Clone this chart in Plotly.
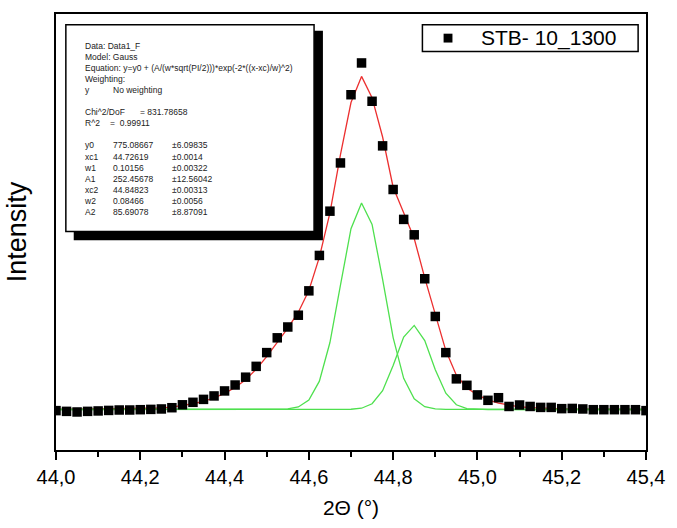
import plotly.graph_objects as go

# 2-theta scan of the (110) reflection, 0.025 deg steps
two_theta = [
    44.000, 44.025, 44.050, 44.075, 44.100, 44.125, 44.150, 44.175, 44.200, 44.225,
    44.250, 44.275, 44.300, 44.325, 44.350, 44.375, 44.400, 44.425, 44.450, 44.475,
    44.500, 44.525, 44.550, 44.575, 44.600, 44.625, 44.650, 44.675, 44.700, 44.725,
    44.750, 44.775, 44.800, 44.825, 44.850, 44.875, 44.900, 44.925, 44.950, 44.975,
    45.000, 45.025, 45.050, 45.075, 45.100, 45.125, 45.150, 45.175, 45.200, 45.225,
    45.250, 45.275, 45.300, 45.325, 45.350, 45.375, 45.400,
]

# measured counts
counts = [
    764, 757, 751, 757, 761, 766, 770, 770, 773, 776,
    780, 792, 820, 844, 872, 905, 953, 1010, 1085, 1189,
    1321, 1463, 1567, 1680, 1914, 2254, 2679, 3142, 3797, 4102,
    3734, 3306, 2887, 2600, 2452, 2030, 1668, 1321, 1069, 1007,
    915, 863, 888, 804, 818, 804, 795, 795, 783, 785,
    780, 773, 773, 773, 773, 773, 764,
]

# cumulative fit curve
fit_total = [
    776, 777, 777, 778, 779, 780, 781, 782, 783, 785,
    789, 798, 811, 830, 853, 887, 929, 986, 1061, 1161,
    1283, 1416, 1557, 1709, 1917, 2238, 2663, 3221, 3722, 3973,
    3769, 3391, 2909, 2663, 2417, 2039, 1680, 1340, 1104, 981,
    915, 868, 835, 816, 801, 792, 787, 783, 780, 779,
    778, 777, 777, 776, 776, 776, 775,
]

# first Gaussian component (y0 + peak 1)
peak_1 = [
    775, 775, 775, 775, 775, 775, 775, 775, 775, 775,
    775, 775, 775, 775, 775, 775, 775, 775, 775, 775,
    775, 776, 780, 799, 866, 1047, 1418, 1968, 2511, 2757,
    2552, 2025, 1465, 1074, 877, 802, 781, 776, 775, 775,
    775, 775, 775, 775, 775, 775, 775, 775, 775, 775,
    775, 775, 775, 775, 775, 775, 775,
]

# second Gaussian component (y0 + peak 2)
peak_2 = [
    775, 775, 775, 775, 775, 775, 775, 775, 775, 775,
    775, 775, 775, 775, 775, 775, 775, 775, 775, 775,
    775, 775, 775, 775, 775, 775, 775, 775, 777, 787,
    830, 956, 1197, 1470, 1582, 1436, 1157, 931, 820, 784,
    776, 775, 775, 775, 775, 775, 775, 775, 775, 775,
    775, 775, 775, 775, 775, 775, 775,
]

x_ticks = [44.0, 44.2, 44.4, 44.6, 44.8, 45.0, 45.2, 45.4]
series_name = "STB- 10_1300"

header_lines = [
    "Data: Data1_F",
    "Model: Gauss",
    "Equation: y=y0 + (A/(w*sqrt(PI/2)))*exp(-2*((x-xc)/w)^2)",
    "Weighting:",
]
param_names = ["y0", "xc1", "w1", "A1", "xc2", "w2", "A2"]
param_values = ["775.08667", "44.72619", "0.10156", "252.45678", "44.84823", "0.08466", "85.69078"]
param_errors = ["\u00b16.09835", "\u00b10.0014", "\u00b10.00322", "\u00b112.56042",
                "\u00b10.00313", "\u00b10.0056", "\u00b18.87091"]

W, H = 677, 528
L, R, T, B = 56, 22, 12, 73
PW, PH = W - L - R, H - T - B


def px(x):
    return (x - L) / PW


def py(y):
    return (H - B - y) / PH


FONT = "Liberation Sans, Arial, sans-serif"

fig = go.Figure()
fig.add_trace(go.Scatter(
    x=two_theta, y=fit_total, mode="lines",
    line=dict(color="#ec2f2f", width=1.3), showlegend=False,
))
fig.add_trace(go.Scatter(
    x=two_theta, y=peak_1, mode="lines",
    line=dict(color="#4ee04e", width=1.3), showlegend=False,
))
fig.add_trace(go.Scatter(
    x=two_theta, y=peak_2, mode="lines",
    line=dict(color="#4ee04e", width=1.3), showlegend=False,
))
fig.add_trace(go.Scatter(
    x=two_theta, y=counts, mode="markers", name=series_name,
    marker=dict(symbol="square", size=9.5, color="black"), showlegend=False,
))

shapes = [
    # results box with a drop shadow
    dict(type="rect", xref="paper", yref="paper", layer="above",
         x0=px(74), x1=px(327), y0=py(242), y1=py(29),
         fillcolor="black", line=dict(width=0)),
    dict(type="rect", xref="paper", yref="paper", layer="above",
         x0=px(66), x1=px(318), y0=py(233), y1=py(23),
         fillcolor="white", line=dict(color="black", width=1.5)),
    # legend frame and symbol
    dict(type="rect", xref="paper", yref="paper", layer="above",
         x0=px(428), x1=px(647), y0=py(50), y1=py(23),
         fillcolor="white", line=dict(color="black", width=1.5)),
    dict(type="rect", xref="paper", yref="paper", layer="above",
         x0=px(449.5), x1=px(458.5), y0=py(41), y1=py(32),
         fillcolor="black", line=dict(width=0)),
]

small = dict(family=FONT, size=8.5, color="#222")
BLANK = "\u00a0"


def column(rows):
    return "<br>".join(r if r else BLANK for r in rows)


n_head = len(header_lines)
col_a = header_lines + ["y", "", "Chi^2/DoF", "R^2", ""] + param_names
col_b = [""] * n_head + ["No weighting", "", "", "", ""] + param_values
col_c = [""] * n_head + ["", "", "", "", ""] + param_errors
col_chi = [""] * n_head + ["", "", "= 831.78658", "", ""]
col_r2 = [""] * n_head + ["", "", "", "=  0.99911", ""]

annotations = []
for rows, x in [(col_a, 83), (col_b, 113), (col_c, 173), (col_chi, 140), (col_r2, 110)]:
    annotations.append(dict(
        text=column(rows), xref="paper", yref="paper", x=px(x), y=py(38),
        xanchor="left", yanchor="top", align="left", showarrow=False,
        font=small, borderpad=0,
    ))
annotations.append(dict(
    text=series_name, xref="paper", yref="paper", x=px(485), y=py(36.5),
    xanchor="left", yanchor="middle", showarrow=False,
    font=dict(family=FONT, size=21, color="black"),
))

fig.update_layout(
    width=W, height=H,
    margin=dict(l=L, r=R, t=T, b=B),
    paper_bgcolor="white", plot_bgcolor="white",
    separators=", ",
    font=dict(family=FONT, color="black"),
    shapes=shapes,
    annotations=annotations,
    showlegend=False,
    xaxis=dict(
        range=[44.0, 45.4], tickvals=x_ticks, tickformat=".1f",
        ticks="outside", ticklen=8, tickwidth=1.5, tickcolor="black",
        minor=dict(dtick=0.1, tick0=44.0, ticks="outside", ticklen=5, tickwidth=1.5, tickcolor="black"),
        showline=True, linecolor="black", linewidth=2, mirror=True,
        showgrid=False, zeroline=False,
        tickfont=dict(family=FONT, size=20),
        title=dict(text="2\u0398 (\u00b0)", font=dict(family=FONT, size=21), standoff=13),
    ),
    yaxis=dict(
        range=[386, 4572], showticklabels=False, ticks="",
        showline=True, linecolor="black", linewidth=2, mirror=True,
        showgrid=False, zeroline=False,
        title=dict(text="Intensity", font=dict(family=FONT, size=27), standoff=20),
    ),
)

fig.write_html("out.html")
